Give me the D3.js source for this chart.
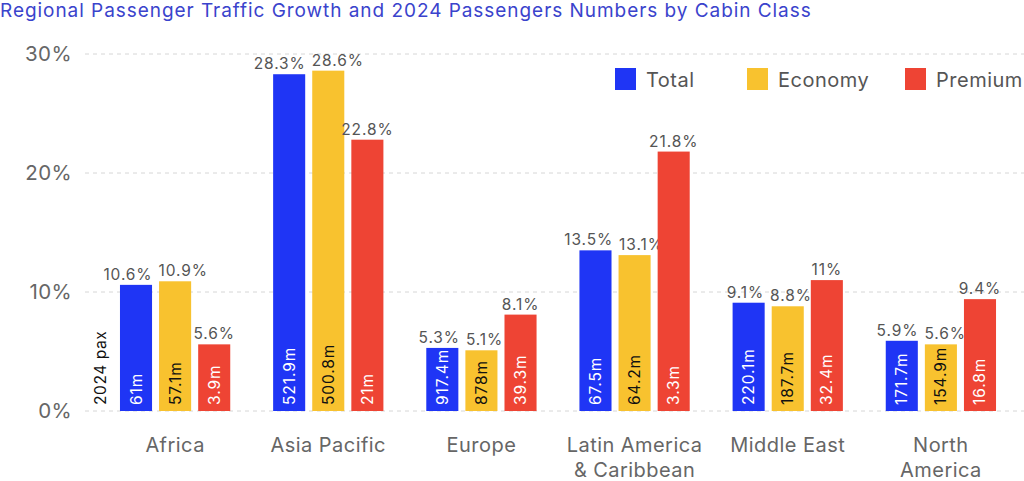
<!DOCTYPE html>
<html>
<head>
<meta charset="utf-8">
<script src="https://cdn.jsdelivr.net/npm/d3@7"></script>
<style>
  html, body { margin: 0; padding: 0; background: #fff; }
  svg { display: block; font-family: Inter, "Noto Sans", sans-serif; }
</style>
</head>
<body>
<svg id="chart" width="1024" height="481"></svg>
<script>
const regions = [["Africa"], ["Asia Pacific"], ["Europe"], ["Latin America", "& Caribbean"], ["Middle East"], ["North", "America"]];
const seriesNames = ["Total", "Economy", "Premium"];
const totalGrowth = [10.6, 28.3, 5.3, 13.5, 9.1, 5.9];
const economyGrowth = [10.9, 28.6, 5.1, 13.1, 8.8, 5.6];
const premiumGrowth = [5.6, 22.8, 8.1, 21.8, 11, 9.4];
const totalPax = ["61m", "521.9m", "917.4m", "67.5m", "220.1m", "171.7m"];
const economyPax = ["57.1m", "500.8m", "878m", "64.2m", "187.7m", "154.9m"];
const premiumPax = ["3.9m", "21m", "39.3m", "3.3m", "32.4m", "16.8m"];
const yTicks = [0, 10, 20, 30];

const colors = ["#1f35f5", "#f8c22f", "#ee4434"];
const insideText = ["#ffffff", "#111111", "#ffffff"];
const growth = [totalGrowth, economyGrowth, premiumGrowth];
const pax = [totalPax, economyPax, premiumPax];

const svg = d3.select("#chart");
const y0 = 411, y30 = 54;

const x = d3.scaleBand().domain(d3.range(regions.length)).range([97, 1019]).paddingInner(0.28).paddingOuter(0.15);
const xs = d3.scaleBand().domain(d3.range(3)).range([0, x.bandwidth()]).paddingInner(0.18);
const y = d3.scaleLinear().domain([0, 30]).range([y0, y30]);

// title
svg.append("text").attr("x", 0).attr("y", 17).attr("font-size", 19).attr("letter-spacing", 0.95).attr("fill", "#3a43cc")
  .text("Regional Passenger Traffic Growth and 2024 Passengers Numbers by Cabin Class");

// grid
const yAxis = d3.axisLeft(y).tickValues(yTicks).tickFormat(d => d + "%").tickSize(0).tickPadding(0);
const gy = svg.append("g").attr("transform", "translate(72,0)").call(yAxis);
gy.select(".domain").remove();
gy.selectAll("text").attr("font-size", 20.5).attr("letter-spacing", 0.4).attr("fill", "#666").attr("font-family", "Inter, sans-serif");
svg.append("g").selectAll("line").data(yTicks).join("line")
  .attr("x1", 85).attr("x2", 1024).attr("y1", d => y(d)).attr("y2", d => y(d))
  .attr("stroke", "#d6d6d6").attr("stroke-width", 1).attr("stroke-dasharray", "4,4");

// bars
const groups = svg.append("g").selectAll("g").data(regions).join("g")
  .attr("transform", (d, i) => `translate(${x(i)},0)`);
groups.each(function(r, i) {
  const g = d3.select(this);
  const labels = [];
  for (let s = 0; s < 3; s++) {
    const v = growth[s][i];
    const bx = xs(s), bw = xs.bandwidth();
    g.append("rect").attr("x", bx).attr("y", y(v)).attr("width", bw).attr("height", y0 - y(v)).attr("fill", colors[s]);
    const t = g.append("text").attr("x", bx + bw / 2).attr("y", y(v) - 5).attr("text-anchor", "middle")
      .attr("font-size", 15.5).attr("letter-spacing", 0.9).attr("fill", "#555").text(v + "%");
    labels.push({ t, cx: bx + bw / 2, w: t.node().getComputedTextLength(), yy: y(v) - 5 });
    g.append("text").attr("transform", `translate(${bx + bw / 2 + 5.5},${y0 - 6}) rotate(-90)`)
      .attr("font-size", 15.5).attr("letter-spacing", 0.9).attr("fill", insideText[s]).text(pax[s][i]);
  }
  // simple collision avoidance for adjacent value labels
  for (let iter = 0; iter < 4; iter++) {
    for (let k = 0; k < labels.length - 1; k++) {
      const a = labels[k], b = labels[k + 1];
      if (Math.abs(a.yy - b.yy) < 15) {
        const need = (a.w + b.w) / 2 + 6;
        const dist = b.cx - a.cx;
        if (dist < need) {
          const push = (need - dist) / 2;
          a.cx -= push; b.cx += push;
        }
      }
    }
  }
  labels.forEach(l => l.t.attr("x", l.cx));
});

// 2024 pax label
svg.append("text").attr("transform", `translate(106,${y0 - 6}) rotate(-90)`)
  .attr("font-size", 15.5).attr("letter-spacing", 0.6).attr("fill", "#111").text("2024 pax");

// x labels
const xl = svg.append("g").selectAll("text").data(regions).join("text")
  .attr("x", (d, i) => x(i) + x.bandwidth() / 2).attr("y", 452).attr("text-anchor", "middle")
  .attr("font-size", 20).attr("letter-spacing", 0.45).attr("fill", "#666");
xl.selectAll("tspan").data(d => d).join("tspan")
  .attr("x", function() { return d3.select(this.parentNode).attr("x"); })
  .attr("dy", (d, j) => j === 0 ? 0 : 25).text(d => d);

// legend
const legX = [615, 747, 905];
const leg = svg.append("g").selectAll("g").data(seriesNames).join("g")
  .attr("transform", (d, i) => `translate(${legX[i]},68)`);
leg.append("rect").attr("width", 21).attr("height", 22).attr("fill", (d, i) => colors[i]);
leg.append("text").attr("x", 31).attr("y", 18.5).attr("font-size", 20).attr("letter-spacing", 0.5).attr("fill", "#555").text(d => d);
</script>
</body>
</html>
